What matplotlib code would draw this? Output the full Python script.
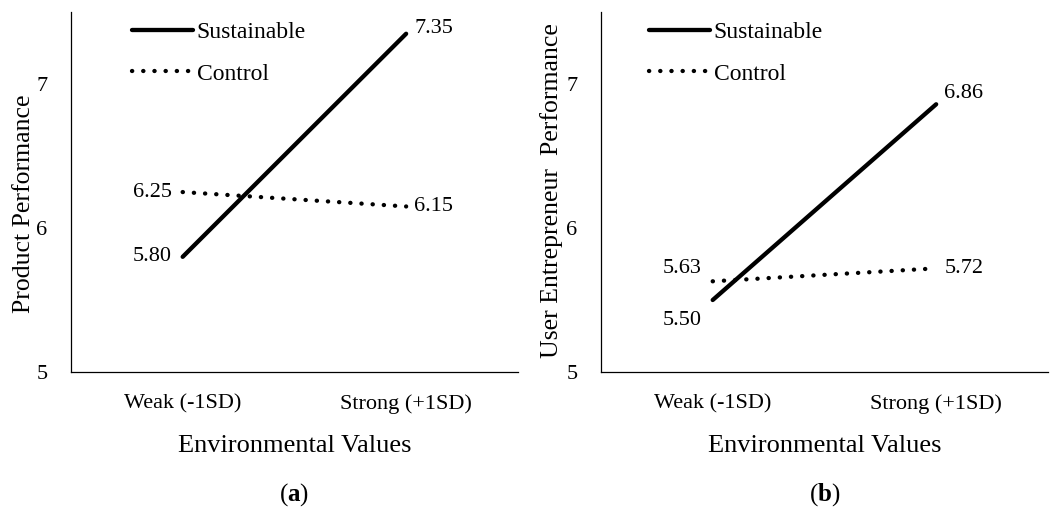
import matplotlib
matplotlib.use("Agg")
import matplotlib.pyplot as plt

plt.rcParams["font.family"] = ["Liberation Serif", "DejaVu Serif"]
plt.rcParams["mathtext.fontset"] = "custom"
plt.rcParams["mathtext.rm"] = "Liberation Serif"
plt.rcParams["mathtext.bf"] = "Liberation Serif:bold"

# ── Data ──
levels = ["Weak (-1SD)", "Strong (+1SD)"]
series = ["Sustainable", "Control"]
prod_sustainable = [5.80, 7.35]
prod_control = [6.25, 6.15]
user_sustainable = [5.50, 6.86]
user_control = [5.63, 5.72]
y_ticks = [5, 6, 7]

# label offsets (points) for value annotations: (weak, strong)
prod_offsets = {"Sustainable": [(-8, 0), (6, 4)], "Control": [(-8, 0), (6, 0)]}
user_offsets = {"Sustainable": [(-8, -15), (6, 8)], "Control": [(-8, 9), (6, 0)]}

FS = 16
LW = 3.1
DOT = (0, (0.05, 2.55))


def draw_panel(ax, sust, ctrl, offsets, ylabel, ylab_xy, leg_x, tag):
    x = [1, 2]
    ax.plot(x, sust, color="black", lw=LW, solid_capstyle="round", label=series[0])
    ax.plot(x, ctrl, color="black", lw=LW, ls=DOT, dash_capstyle="round", label=series[1])
    for name, vals in (("Sustainable", sust), ("Control", ctrl)):
        for i, v in enumerate(vals):
            dx, dy = offsets[name][i]
            ax.annotate(f"{v:.2f}", (x[i], v), xytext=(dx, dy), textcoords="offset points",
                        ha="right" if i == 0 else "left", va="center", fontsize=FS)
    ax.set_xlim(0.5, 2.5)
    ax.set_ylim(5, 7.5)
    ax.set_xticks(x)
    ax.set_xticklabels(levels, fontsize=FS)
    ax.set_yticks(y_ticks)
    ax.set_yticklabels([str(t) for t in y_ticks], fontsize=FS)
    ax.tick_params(axis="both", length=0)
    ax.tick_params(axis="x", pad=16)
    ax.tick_params(axis="y", pad=17)
    for s in ("top", "right"):
        ax.spines[s].set_visible(False)
    for s in ("left", "bottom"):
        ax.spines[s].set_linewidth(0.9)
    ax.set_ylabel(ylabel, fontsize=18.5)
    ax.yaxis.set_label_coords(*ylab_xy)
    ax.set_xlabel("Environmental Values", fontsize=19)
    ax.xaxis.set_label_coords(0.5, -0.175)
    ax.legend(loc="upper left", bbox_to_anchor=(leg_x, 1.0), frameon=False, fontsize=17,
              handlelength=2.6, handletextpad=0.15, labelspacing=0.85, borderaxespad=0)
    ax.text(0.5, -0.34, tag, transform=ax.transAxes, ha="center", va="center", fontsize=18)


fig = plt.figure(figsize=(10.59, 5.17), dpi=100)
ax_a = fig.add_axes([0.067, 0.2805, 0.422, 0.696])
ax_b = fig.add_axes([0.5675, 0.2805, 0.422, 0.696])

draw_panel(ax_a, prod_sustainable, prod_control, prod_offsets,
           "Product Performance", (-0.08, 0.467), 0.115, r"($\mathbf{a}$)")
draw_panel(ax_b, user_sustainable, user_control, user_offsets,
           "User Entrepreneur  Performance", (-0.085, 0.503), 0.086, r"($\mathbf{b}$)")

fig.savefig("out.png", dpi=100, facecolor="white")
